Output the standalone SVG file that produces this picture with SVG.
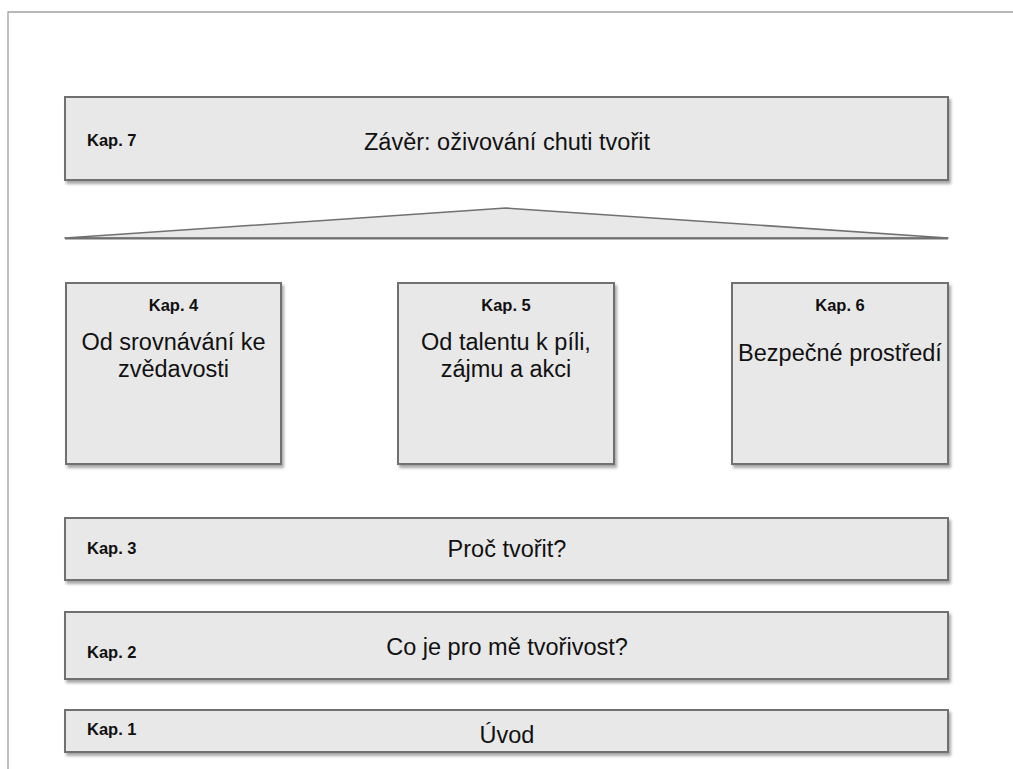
<svg xmlns="http://www.w3.org/2000/svg" width="1013" height="769" viewBox="0 0 1013 769">
  <defs>
    <filter id="shadow" x="-5%" y="-10%" width="112%" height="130%">
      <feGaussianBlur in="SourceAlpha" stdDeviation="1.6"/>
      <feOffset dx="2" dy="3" result="b"/>
      <feComponentTransfer><feFuncA type="linear" slope="0.35"/></feComponentTransfer>
      <feMerge><feMergeNode/><feMergeNode in="SourceGraphic"/></feMerge>
    </filter>
  </defs>
  <style>
    .box { fill: #e8e8e8; stroke: #707070; stroke-width: 2; filter: url(#shadow); }
    .kap { font-family: "Liberation Sans", Arial, sans-serif; font-size: 16.5px; font-weight: bold; fill: #111; }
    .main { font-family: "Liberation Sans", Arial, sans-serif; font-size: 23.5px; fill: #111; }
    .frame { stroke: #a0a0a0; stroke-width: 1.3; fill: none; }
  </style>
  <rect width="1013" height="769" fill="#ffffff"/>

  <!-- page frame -->
  <path class="frame" d="M8 769 V12 H1013"/>

  <g id="kap7">
    <rect class="box" x="65" y="97" width="883" height="83"/>
    <text class="kap" x="87" y="146">Kap. 7</text>
    <text class="main" x="507" y="150" text-anchor="middle">Závěr: oživování chuti tvořit</text>
  </g>

  <g id="roof">
    <polygon points="65,238 506,208 948,238" fill="#e8e8e8" stroke="#707070" stroke-width="1.5" stroke-linejoin="round"/>
    <line x1="65" y1="238.5" x2="948" y2="238.5" stroke="#707070" stroke-width="2"/>
  </g>

  <g id="kap4">
    <rect class="box" x="66" y="283" width="215" height="181"/>
    <text class="kap" x="173.5" y="311" text-anchor="middle">Kap. 4</text>
    <text class="main" x="173.5" y="350" text-anchor="middle">Od srovnávání ke</text>
    <text class="main" x="173.5" y="377" text-anchor="middle">zvědavosti</text>
  </g>

  <g id="kap5">
    <rect class="box" x="398" y="283" width="216" height="181"/>
    <text class="kap" x="506" y="311" text-anchor="middle">Kap. 5</text>
    <text class="main" x="506" y="350" text-anchor="middle">Od talentu k píli,</text>
    <text class="main" x="506" y="377" text-anchor="middle">zájmu a akci</text>
  </g>

  <g id="kap6">
    <rect class="box" x="732" y="283" width="216" height="181"/>
    <text class="kap" x="840" y="311" text-anchor="middle">Kap. 6</text>
    <text class="main" x="840" y="361" text-anchor="middle">Bezpečné prostředí</text>
  </g>

  <g id="kap3">
    <rect class="box" x="65" y="518" width="883" height="62"/>
    <text class="kap" x="87" y="554">Kap. 3</text>
    <text class="main" x="507" y="556.5" text-anchor="middle">Proč tvořit?</text>
  </g>

  <g id="kap2">
    <rect class="box" x="65" y="612" width="883" height="67"/>
    <text class="kap" x="87" y="658">Kap. 2</text>
    <text class="main" x="507" y="654.5" text-anchor="middle">Co je pro mě tvořivost?</text>
  </g>

  <g id="kap1">
    <rect class="box" x="65" y="710" width="883" height="42"/>
    <text class="kap" x="87" y="735">Kap. 1</text>
    <text class="main" x="507" y="742.5" text-anchor="middle">Úvod</text>
  </g>

  <g id="connectors"/>
</svg>
